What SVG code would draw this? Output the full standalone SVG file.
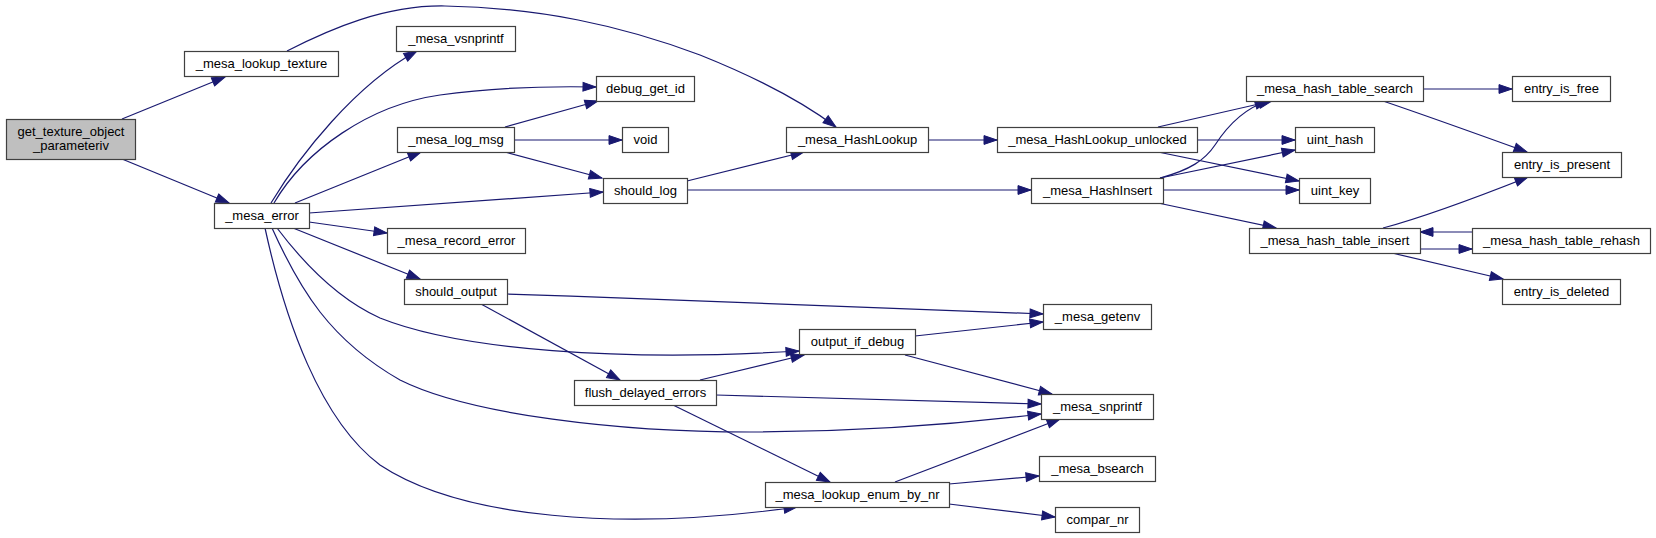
<svg xmlns="http://www.w3.org/2000/svg" width="1656" height="538" viewBox="0 0 1656 538">
<style>
.n rect{fill:#ffffff;stroke:#404040;stroke-width:1.2}
.n.root rect{fill:#bfbfbf}
.n text{font-family:"Liberation Sans",Arial,sans-serif;font-size:13px;fill:#000;text-anchor:middle}
.e path{fill:none;stroke:#191970;stroke-width:1.2;marker-end:url(#a)}
</style>
<defs>
<marker id="a" viewBox="0 0 13 10" refX="13" refY="5" markerWidth="13" markerHeight="10" markerUnits="userSpaceOnUse" orient="auto" overflow="visible">
<path d="M0,0.6 L13,5 L0,9.4 z" fill="#191970" stroke="#191970" stroke-width="1"/>
</marker>
</defs>
<rect width="1656" height="538" fill="#ffffff"/>
<g id="edges" class="e">
<path d="M122,119 L225,77"/>
<path d="M122,159 L229,203"/>
<path d="M287,51 C330,29 385,5 445,6 C540,8 620,25 700,55 C750,75 800,100 836,127"/>
<path d="M271,203 C300,155 355,85 417,51"/>
<path d="M274,203 C305,150 370,105 440,95 C490,88 545,86 596,87"/>
<path d="M295,203 L421,152"/>
<path d="M309,213 L603,192"/>
<path d="M309,222 L387,233"/>
<path d="M293,228 L420,279"/>
<path d="M277,228 C305,265 340,300 380,318 C460,350 620,362 799,351"/>
<path d="M272,228 C300,290 330,340 400,380 C470,415 620,432 750,432 C870,432 960,424 1041,414"/>
<path d="M265,228 C285,320 320,420 380,465 C460,518 620,532 797,507"/>
<path d="M505,127 L598,101"/>
<path d="M514,140 L622,140"/>
<path d="M505,152 L602,178"/>
<path d="M687,181 L804,152"/>
<path d="M687,190 L1031,190"/>
<path d="M928,140 L997,140"/>
<path d="M1158,127 L1272,101"/>
<path d="M1197,140 L1295,140"/>
<path d="M1158,152 L1299,181"/>
<path d="M1160,178 C1190,170 1205,160 1215,145 C1228,125 1245,108 1268,101"/>
<path d="M1160,178 L1295,150"/>
<path d="M1163,190 L1299,190"/>
<path d="M1158,203 L1276,228"/>
<path d="M1423,89 L1512,89"/>
<path d="M1383,101 C1430,117 1480,135 1527,152"/>
<path d="M1383,228 C1420,218 1470,200 1528,177"/>
<path d="M1420,249 L1472,249"/>
<path d="M1472,232 L1420,232"/>
<path d="M1392,253 L1503,279"/>
<path d="M507,294 C700,300 900,308 1043,314"/>
<path d="M481,304 L620,380"/>
<path d="M915,336 L1043,322"/>
<path d="M905,355 L1052,394"/>
<path d="M700,380 L804,355"/>
<path d="M716,395 L1041,404"/>
<path d="M673,405 L830,482"/>
<path d="M895,482 L1060,419"/>
<path d="M949,484 L1039,476"/>
<path d="M949,504 L1055,517"/>
</g>
<g id="n0" class="n root"><rect x="6.5" y="119.5" width="129" height="40"/><text x="71" y="136">get_texture_object</text><text x="71" y="150">_parameteriv</text></g>
<g id="n1" class="n"><rect x="184.5" y="51.5" width="154" height="25"/><text x="261.5" y="68">_mesa_lookup_texture</text></g>
<g id="n2" class="n"><rect x="214.5" y="203.5" width="95" height="25"/><text x="262" y="220">_mesa_error</text></g>
<g id="n3" class="n"><rect x="396.5" y="26.5" width="119" height="25"/><text x="456" y="43">_mesa_vsnprintf</text></g>
<g id="n4" class="n"><rect x="596.5" y="76.5" width="98" height="25"/><text x="645.5" y="93">debug_get_id</text></g>
<g id="n5" class="n"><rect x="397.5" y="127.5" width="117" height="25"/><text x="456" y="144">_mesa_log_msg</text></g>
<g id="n6" class="n"><rect x="622.5" y="127.5" width="46" height="25"/><text x="645.5" y="144">void</text></g>
<g id="n7" class="n"><rect x="603.5" y="178.5" width="84" height="25"/><text x="645.5" y="195">should_log</text></g>
<g id="n8" class="n"><rect x="387.5" y="228.5" width="138" height="25"/><text x="456.5" y="245">_mesa_record_error</text></g>
<g id="n9" class="n"><rect x="404.5" y="279.5" width="103" height="25"/><text x="456" y="296">should_output</text></g>
<g id="n10" class="n"><rect x="786.5" y="127.5" width="142" height="25"/><text x="857.5" y="144">_mesa_HashLookup</text></g>
<g id="n11" class="n"><rect x="997.5" y="127.5" width="200" height="25"/><text x="1097.5" y="144">_mesa_HashLookup_unlocked</text></g>
<g id="n12" class="n"><rect x="1031.5" y="178.5" width="132" height="25"/><text x="1097.5" y="195">_mesa_HashInsert</text></g>
<g id="n13" class="n"><rect x="1246.5" y="76.5" width="177" height="25"/><text x="1335" y="93">_mesa_hash_table_search</text></g>
<g id="n14" class="n"><rect x="1512.5" y="76.5" width="98" height="25"/><text x="1561.5" y="93">entry_is_free</text></g>
<g id="n15" class="n"><rect x="1295.5" y="127.5" width="79" height="25"/><text x="1335" y="144">uint_hash</text></g>
<g id="n16" class="n"><rect x="1502.5" y="152.5" width="119" height="25"/><text x="1562" y="169">entry_is_present</text></g>
<g id="n17" class="n"><rect x="1299.5" y="178.5" width="71" height="25"/><text x="1335" y="195">uint_key</text></g>
<g id="n18" class="n"><rect x="1249.5" y="228.5" width="171" height="25"/><text x="1335" y="245">_mesa_hash_table_insert</text></g>
<g id="n19" class="n"><rect x="1472.5" y="228.5" width="178" height="25"/><text x="1561.5" y="245">_mesa_hash_table_rehash</text></g>
<g id="n20" class="n"><rect x="1502.5" y="279.5" width="118" height="25"/><text x="1561.5" y="296">entry_is_deleted</text></g>
<g id="n21" class="n"><rect x="799.5" y="329.5" width="116" height="25"/><text x="857.5" y="346">output_if_debug</text></g>
<g id="n22" class="n"><rect x="574.5" y="380.5" width="142" height="25"/><text x="645.5" y="397">flush_delayed_errors</text></g>
<g id="n23" class="n"><rect x="1043.5" y="304.5" width="108" height="25"/><text x="1097.5" y="321">_mesa_getenv</text></g>
<g id="n24" class="n"><rect x="1041.5" y="394.5" width="112" height="25"/><text x="1097.5" y="411">_mesa_snprintf</text></g>
<g id="n25" class="n"><rect x="765.5" y="482.5" width="184" height="25"/><text x="857.5" y="499">_mesa_lookup_enum_by_nr</text></g>
<g id="n26" class="n"><rect x="1039.5" y="456.5" width="116" height="25"/><text x="1097.5" y="473">_mesa_bsearch</text></g>
<g id="n27" class="n"><rect x="1055.5" y="507.5" width="84" height="25"/><text x="1097.5" y="524">compar_nr</text></g>
</svg>
